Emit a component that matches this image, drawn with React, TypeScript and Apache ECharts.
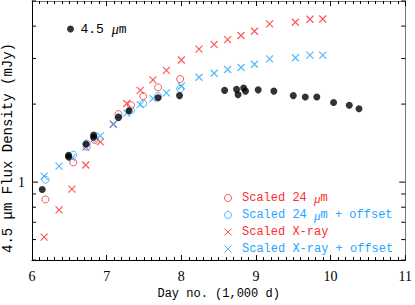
import React, { useEffect, useRef } from "react";
import * as echarts from "echarts";

// 4.5 micron photometry
const xIrac = [6.137, 6.49, 6.49, 6.725, 6.826, 6.826, 7.158, 7.30, 7.689, 7.976, 8.58, 8.74, 8.76, 8.835, 8.86, 9.03, 9.24, 9.50, 9.66, 9.815, 10.04, 10.25, 10.38];
const yIrac = [0.937, 1.269, 1.25, 1.404, 1.518, 1.49, 1.778, 1.884, 2.115, 2.157, 2.26, 2.28, 2.176, 2.306, 2.245, 2.27, 2.245, 2.157, 2.13, 2.13, 2.03, 1.98, 1.918];

// scaled 24 micron
const xCirc = [6.18, 6.553, 6.733, 6.84, 7.158, 7.326, 7.49, 7.689, 7.985];
const yCircRed = [0.857, 1.191, 1.371, 1.454, 1.83, 1.98, 2.146, 2.32, 2.5];
const yCircBlue = [1.022, 1.276, 1.41, 1.479, 1.78, 1.89, 2.01, 2.146, 2.29];

// scaled X-ray
const xXray = [6.163, 6.362, 6.535, 6.72, 6.915, 7.09, 7.27, 7.45, 7.62, 7.8, 8.0, 8.237, 8.44, 8.62, 8.8, 8.98, 9.183, 9.528, 9.723, 9.895];
const yXrayRed = [0.613, 0.781, 0.94, 1.164, 1.43, 1.674, 2.01, 2.26, 2.48, 2.7, 2.96, 3.26, 3.4, 3.545, 3.68, 3.82, 4.08, 4.14, 4.25, 4.26];
const yXrayBlue = [1.055, 1.153, 1.24, 1.363, 1.509, 1.67, 1.846, 1.99, 2.1, 2.21, 2.35, 2.54, 2.63, 2.72, 2.77, 2.85, 2.99, 3.02, 3.09, 3.09];

const yTicks = [0.5, 0.6, 0.7, 0.8, 0.9, 1, 2, 3, 4, 5];
const yMajor = [1];

const RED = "#ff2d2d";
const BLUE = "#26a6ff";
const FONT = "Liberation Mono";
const NUMFONT = "Liberation Serif";
const CROSS = "path://M0 0L10 10M10 0L0 10";

const zip = (xs: number[], ys: number[]) => xs.map((x, i) => [x, ys[i]]);

export default function App() {
  const ref = useRef<HTMLDivElement>(null);
  useEffect(() => {
    const chart = echarts.init(ref.current!, undefined, { renderer: "svg" });
    const italicMu = (name: string) => name.replace("μ", "{i|μ}");
    const thin = (c: string) => ({ color: "rgba(255,255,255,0)", borderColor: c, borderWidth: 1 });
    chart.setOption({
      animation: false,
      backgroundColor: "#fff",
      grid: { left: 32, right: 6, top: 1, bottom: 38 },
      xAxis: [
        {
          type: "value",
          min: 6,
          max: 11,
          interval: 1,
          position: "bottom",
          name: "Day no. (1,000 d)",
          nameLocation: "middle",
          nameGap: 24,
          nameTextStyle: { fontFamily: FONT, fontSize: 12, color: "#000" },
          axisLine: { lineStyle: { color: "#000", width: 1 } },
          axisTick: { inside: true, length: 5, lineStyle: { color: "#000" } },
          minorTick: { show: true, splitNumber: 10, length: 3, lineStyle: { color: "#000" } },
          axisLabel: { margin: 9, fontFamily: NUMFONT, fontSize: 14, color: "#000" },
          splitLine: { show: false },
        },
        {
          type: "value",
          min: 6,
          max: 11,
          interval: 1,
          position: "top",
          axisLine: { lineStyle: { color: "#777", width: 1 } },
          axisTick: { inside: true, length: 5, lineStyle: { color: "#000" } },
          minorTick: { show: true, splitNumber: 10, length: 3, lineStyle: { color: "#000" } },
          axisLabel: { show: false },
          splitLine: { show: false },
        },
      ],
      yAxis: [
        {
          type: "log",
          logBase: 10,
          min: 0.5,
          max: 5,
          position: "left",
          axisLine: { show: true, lineStyle: { color: "#000", width: 1 } },
          axisTick: { show: false },
          axisLabel: {
            margin: 7,
            fontFamily: NUMFONT,
            fontSize: 14,
            color: "#000",
            formatter: (v: number) => (Math.abs(v - 1) < 1e-9 ? "1" : ""),
          },
          splitLine: { show: false },
        },
        {
          type: "log",
          logBase: 10,
          min: 0.5,
          max: 5,
          position: "right",
          axisLine: { show: true, lineStyle: { color: "#777", width: 1 } },
          axisTick: { show: false },
          axisLabel: { show: false },
          splitLine: { show: false },
        },
      ],
      legend: [
        {
          data: ["4.5 μm"],
          left: 62,
          top: 17,
          itemWidth: 10,
          itemHeight: 7,
          formatter: italicMu,
          textStyle: {
            fontFamily: FONT,
            fontSize: 13,
            color: "#000",
            rich: { i: { fontStyle: "italic", fontFamily: NUMFONT, fontSize: 14 } },
          },
        },
        {
          orient: "vertical",
          left: 219,
          top: 186,
          itemWidth: 18,
          itemHeight: 7,
          itemGap: 3,
          formatter: italicMu,
          textStyle: {
            fontFamily: FONT,
            fontSize: 12,
            lineHeight: 14,
            rich: { i: { fontStyle: "italic", fontFamily: NUMFONT, fontSize: 13 } },
          },
          data: [
            { name: "Scaled 24 μm", textStyle: { color: RED }, itemStyle: thin(RED) },
            { name: "Scaled 24 μm + offset", textStyle: { color: BLUE }, itemStyle: thin(BLUE) },
            { name: "Scaled X-ray", textStyle: { color: RED }, itemStyle: thin(RED) },
            { name: "Scaled X-ray + offset", textStyle: { color: BLUE }, itemStyle: thin(BLUE) },
          ],
        },
      ],
      graphic: [
        {
          type: "text",
          x: 8,
          y: 148,
          rotation: Math.PI / 2,
          style: {
            text: "4.5 μm Flux Density (mJy)",
            fontFamily: FONT,
            fontSize: 14,
            fill: "#000",
            align: "center",
            verticalAlign: "middle",
          },
        },
      ],
      series: [
        {
          name: "Scaled 24 μm",
          type: "scatter",
          data: zip(xCirc, yCircRed),
          symbol: "circle",
          symbolSize: 7,
          itemStyle: thin(RED),
          z: 2,
        },
        {
          name: "Scaled 24 μm + offset",
          type: "scatter",
          data: zip(xCirc, yCircBlue),
          symbol: "circle",
          symbolSize: 7,
          itemStyle: thin(BLUE),
          z: 2,
        },
        {
          name: "Scaled X-ray",
          type: "scatter",
          data: zip(xXray, yXrayRed),
          symbol: CROSS,
          symbolSize: 7,
          itemStyle: { color: "rgba(255,255,255,0)", borderColor: RED, borderWidth: 1.2 },
          z: 2,
        },
        {
          name: "Scaled X-ray + offset",
          type: "scatter",
          data: zip(xXray, yXrayBlue),
          symbol: CROSS,
          symbolSize: 7,
          itemStyle: { color: "rgba(255,255,255,0)", borderColor: BLUE, borderWidth: 1.2 },
          z: 2,
        },
        {
          name: "4.5 μm",
          type: "scatter",
          data: zip(xIrac, yIrac),
          symbol: "circle",
          symbolSize: 7,
          itemStyle: { color: "#000" },
          z: 3,
        },
        {
          name: "yticks",
          type: "custom",
          silent: true,
          data: yTicks.map((v) => [6, v]),
          encode: { x: 0, y: 1 },
          z: 4,
          renderItem: (params: any, api: any) => {
            const v = api.value(1);
            const len = yMajor.indexOf(v) >= 0 ? 6 : 4;
            const pl = api.coord([6, v]);
            const pr = api.coord([11, v]);
            return {
              type: "group",
              children: [
                { type: "line", shape: { x1: pl[0], y1: pl[1], x2: pl[0] + len, y2: pl[1] }, style: { stroke: "#000", lineWidth: 1 } },
                { type: "line", shape: { x1: pr[0] - len, y1: pr[1], x2: pr[0], y2: pr[1] }, style: { stroke: "#000", lineWidth: 1 } },
              ],
            };
          },
        },
      ],
    });
    return () => chart.dispose();
  }, []);
  return (
    <div
      ref={ref}
      style={{ position: "absolute", left: 0, top: 0, width: 415, height: 305, background: "#fff" }}
    />
  );
}
